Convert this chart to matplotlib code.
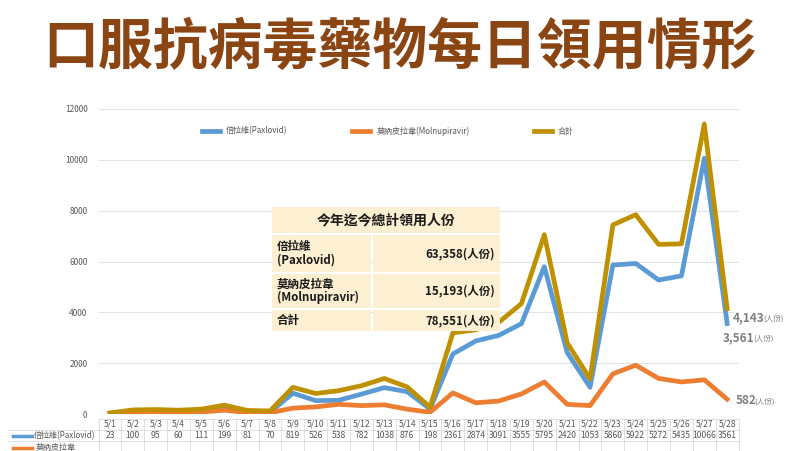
import matplotlib
matplotlib.use('Agg')
import matplotlib.pyplot as plt
from matplotlib.patches import Rectangle
from matplotlib.lines import Line2D

plt.rcParams['font.family'] = ['Noto Sans CJK TC', 'DejaVu Sans']

# --- data ---
dates = ['5/1', '5/2', '5/3', '5/4', '5/5', '5/6', '5/7', '5/8', '5/9', '5/10',
         '5/11', '5/12', '5/13', '5/14', '5/15', '5/16', '5/17', '5/18', '5/19',
         '5/20', '5/21', '5/22', '5/23', '5/24', '5/25', '5/26', '5/27', '5/28']
paxlovid = [23, 100, 95, 60, 111, 199, 81, 70, 819, 526, 538, 782, 1038, 876,
            198, 2361, 2874, 3091, 3555, 5795, 2420, 1053, 5860, 5922, 5272,
            5435, 10066, 3561]
# (table row is cut off in the reference)
molnupiravir = [20, 60, 80, 90, 80, 150, 60, 50, 230, 280, 380, 330, 360, 190,
                70, 830, 440, 510, 790, 1260, 380, 330, 1580, 1920, 1400, 1260,
                1345, 582]
total = [p + m for p, m in zip(paxlovid, molnupiravir)]

series_names = ['倍拉維(Paxlovid)', '莫納皮拉韋(Molnupiravir)', '合計']
summary_labels = ['倍拉維\n(Paxlovid)', '莫納皮拉韋\n(Molnupiravir)', '合計']
summary_values = ['63,358(人份)', '15,193(人份)', '78,551(人份)']

BLUE = '#5B9BD5'
ORANGE = '#ED7D31'
GOLD = '#BF9000'
GRAY = '#595959'
CREAM = '#FCEFD2'

W, H = 800, 451


def fx(px):
    return px / W


def fy(py):
    return 1 - py / H


fig = plt.figure(figsize=(8, 4.51), dpi=100)

# title
fig.text(0.5, fy(48), '口服抗病毒藥物每日領用情形', ha='center', va='center',
         fontsize=39.5, fontweight='heavy', color='#8B4513')

# main chart axes
x = list(range(len(dates)))
left_px, right_px = 98.6, 738.6
top_px, bottom_px = 109, 414
ax = fig.add_axes([fx(left_px), fy(bottom_px), fx(right_px - left_px),
                   (bottom_px - top_px) / H])
ax.plot(x, paxlovid, color=BLUE, lw=3.4, label=series_names[0])
ax.plot(x, molnupiravir, color=ORANGE, lw=3.4, label=series_names[1])
ax.plot(x, total, color=GOLD, lw=3.4, label=series_names[2])
ax.set_xlim(-0.5, len(dates) - 0.5)
ax.set_ylim(0, 12000)
ax.set_yticks(range(0, 12001, 2000))
ax.tick_params(axis='y', length=0, labelsize=6, labelcolor=GRAY, pad=8)
ax.set_xticks([])
ax.grid(axis='y', color='#E3E3E3', lw=0.8)
ax.set_axisbelow(True)
for s in ax.spines.values():
    s.set_visible(False)

ax.legend(ncol=3, loc='center', bbox_to_anchor=((388 - left_px) / 640, (414 - 131) / 305),
          frameon=False, fontsize=5.8, handlelength=2.2, columnspacing=8,
          labelcolor=GRAY)

# end-point labels (offsets in points); unit text hangs off the number's right edge
for val, dx, dy in [(total[-1], 4.3, -6.5), (paxlovid[-1], -3, -10.5), (molnupiravir[-1], 6, -1)]:
    num = ax.annotate(f'{val:,}', xy=(x[-1], val), xytext=(dx, dy),
                      textcoords='offset points', fontsize=8.5, fontweight='bold',
                      color='#7F7F7F', va='center', ha='left', annotation_clip=False)
    ax.annotate('(人份)', xy=(1, 0.45), xycoords=num, xytext=(-1.3, 0),
                textcoords='offset points', fontsize=5.5, color='#7F7F7F',
                va='center', ha='left', annotation_clip=False)

# data table under chart (third row falls below the crop, as in the source)
tax = fig.add_axes([fx(left_px), 0, fx(right_px - left_px), fy(419)])
tax.set_xlim(-0.5, len(dates) - 0.5)
tax.set_ylim(32, 0)
tax.axis('off')
row_h = 11
for i, d in enumerate(dates):
    tax.text(i, row_h * 0.5, d, ha='center', va='center', fontsize=6.2, color=GRAY)
    tax.text(i, row_h * 1.5, str(paxlovid[i]), ha='center', va='center',
             fontsize=6.2, color=GRAY)
for k in range(len(dates) + 1):
    tax.plot([k - 0.5, k - 0.5], [0, 32], color='#D9D9D9', lw=0.6, clip_on=False)
for r in range(3):
    tax.plot([-0.5, len(dates) - 0.5], [r * row_h, r * row_h], color='#D9D9D9', lw=0.6)

# row headers (series keys)
yc = 419 + row_h * 1.5
fig.add_artist(Line2D([fx(13), fx(32)], [fy(yc), fy(yc)], color=BLUE, lw=2.5))
fig.text(fx(34), fy(yc), series_names[0], ha='left', va='center', fontsize=5.8, color=GRAY)
yc = 448
fig.add_artist(Line2D([fx(13), fx(32)], [fy(yc), fy(yc)], color=ORANGE, lw=2.5))
fig.text(fx(36), fy(443), '莫納皮拉韋', ha='left', va='top', fontsize=5.8, color=GRAY)
for r in (1, 2):
    yl = 419 + row_h * r
    fig.add_artist(Line2D([fx(8), fx(left_px)], [fy(yl), fy(yl)], color='#D9D9D9', lw=0.6))

# summary box
bx0, bx1, bsplit = 272, 500, 372
rows = [(207, 233), (235, 272), (274, 308), (310, 331)]
for i, (y0, y1) in enumerate(rows):
    if i == 0:
        fig.add_artist(Rectangle((fx(bx0), fy(y1)), fx(bx1 - bx0), (y1 - y0) / H,
                                 facecolor=CREAM, edgecolor='none'))
    else:
        fig.add_artist(Rectangle((fx(bx0), fy(y1)), fx(bsplit - 1 - bx0), (y1 - y0) / H,
                                 facecolor=CREAM, edgecolor='none'))
        fig.add_artist(Rectangle((fx(bsplit + 1), fy(y1)), fx(bx1 - bsplit - 1),
                                 (y1 - y0) / H, facecolor=CREAM, edgecolor='none'))
fig.text(fx((bx0 + bx1) / 2), fy(220), '今年迄今總計領用人份', ha='center', va='center',
         fontsize=10, fontweight='bold', color='#1A1A1A')
for (y0, y1), lab, val in zip(rows[1:], summary_labels, summary_values):
    ym = (y0 + y1) / 2
    fig.text(fx(277), fy(ym), lab, ha='left', va='center', fontsize=8.3,
             fontweight='bold', color='#1A1A1A', linespacing=1.05)
    fig.text(fx(495), fy(ym), val, ha='right', va='center', fontsize=8.3,
             fontweight='bold', color='#1A1A1A')

fig.savefig('out.png', dpi=100)
